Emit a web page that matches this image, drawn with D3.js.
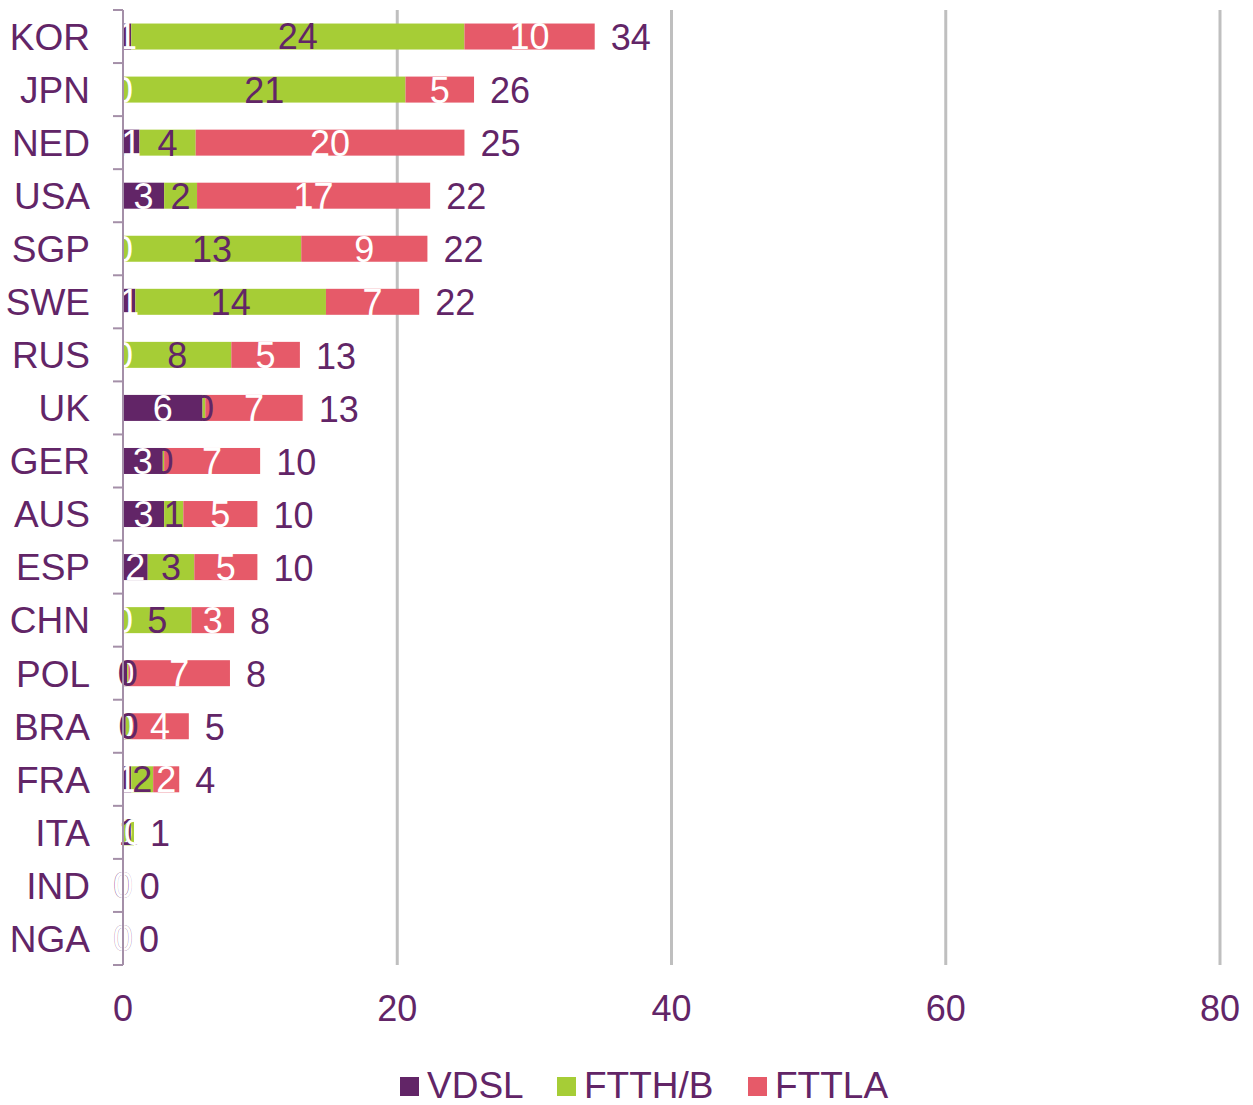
<!DOCTYPE html>
<html>
<head>
<meta charset="utf-8">
<script src="https://cdn.jsdelivr.net/npm/d3@7"></script>
<style>
  body { margin: 0; background: #fff; }
  text { font-family: "Liberation Sans", Arial, sans-serif; }
</style>
</head>
<body>
<svg id="chart" width="1253" height="1105"></svg>
<script>
// data (labels are rounded in the original)
const countries = ["KOR","JPN","NED","USA","SGP","SWE","RUS","UK","GER","AUS","ESP","CHN","POL","BRA","FRA","ITA","IND","NGA"];
const vdsl  = [0.6, 0,    1.2, 3.0,  0,    0.9,  0,   5.8, 2.9, 3.0, 1.8, 0,   0.3, 0.2, 0.6, 0,   0,    0];
const ftthb = [24.3, 20.6, 4.1, 2.4, 13.0, 13.9, 7.9, 0.2, 0.1, 1.4, 3.4, 5.0, 0.1, 0.4, 1.6, 0.8, 0,    0];
const fttla = [9.5, 5.0,  19.6, 17.0, 9.2, 6.8,  5.0, 7.1, 7.0, 5.4, 4.6, 3.1, 7.4, 4.2, 1.9, 0,   0.05, 0];
const seriesNames = ["VDSL", "FTTH/B", "FTTLA"];
const xTicks = [0, 20, 40, 60, 80];

const colors = ["#622567", "#a6cd36", "#e65a69"];
const labelColors = ["#ffffff", "#622567", "#ffffff"];
const textColor = "#622567";

const svg = d3.select("#chart");
const margin = {left: 123, top: 10, right: 33, bottom: 140};
const W = 1253, H = 1105;

const x = d3.scaleLinear().domain([0, 80]).range([margin.left, W - margin.right]);
const y = d3.scaleBand().domain(countries).range([margin.top, H - margin.bottom]).paddingInner(0.51).paddingOuter(0.255);

const rows = countries.map((c, i) => ({country: c, VDSL: vdsl[i], "FTTH/B": ftthb[i], FTTLA: fttla[i]}));
const stacked = d3.stack().keys(seriesNames)(rows);

// gridlines
svg.append("g").selectAll("line").data(xTicks.filter(d => d > 0)).join("line")
  .attr("x1", d => x(d)).attr("x2", d => x(d))
  .attr("y1", margin.top).attr("y2", H - margin.bottom)
  .attr("stroke", "#bfbfbf").attr("stroke-width", 3);

// bars
const layers = svg.append("g").selectAll("g").data(stacked).join("g")
  .attr("fill", (d, i) => colors[i]);
layers.selectAll("rect").data(d => d).join("rect")
  .attr("x", d => x(d[0]))
  .attr("width", d => x(d[1]) - x(d[0]))
  .attr("y", d => y(d.data.country))
  .attr("height", y.bandwidth());

// value labels in segments
svg.append("g").selectAll("g").data(stacked).join("g")
  .attr("fill", (d, i) => labelColors[i])
  .selectAll("text").data(d => d).join("text")
  .attr("x", d => (x(d[0]) + x(d[1])) / 2)
  .attr("y", d => y(d.data.country) + y.bandwidth() / 2)
  .attr("dy", "0.36em")
  .attr("text-anchor", "middle")
  .attr("font-size", 36)
  .text(d => Math.round(d[1] - d[0]));

// totals
svg.append("g").selectAll("text").data(rows).join("text")
  .attr("x", d => x(d.VDSL + d["FTTH/B"] + d.FTTLA) + 16)
  .attr("y", d => y(d.country) + y.bandwidth() / 2)
  .attr("dy", "0.38em")
  .attr("font-size", 36)
  .attr("fill", textColor)
  .text(d => Math.round(d.VDSL + d["FTTH/B"] + d.FTTLA));

// category axis
const step = y.step();
const bounds = d3.range(countries.length + 1).map(i => margin.top + i * step);
const ax = svg.append("g");
ax.append("line")
  .attr("x1", margin.left).attr("x2", margin.left)
  .attr("y1", margin.top).attr("y2", H - margin.bottom)
  .attr("stroke", "#a48fa8").attr("stroke-width", 2);
ax.selectAll("line.tk").data(bounds).join("line").attr("class", "tk")
  .attr("x1", margin.left - 10).attr("x2", margin.left)
  .attr("y1", d => d).attr("y2", d => d)
  .attr("stroke", "#a48fa8").attr("stroke-width", 2);
ax.selectAll("text").data(countries).join("text")
  .attr("x", 90)
  .attr("y", d => y(d) + y.bandwidth() / 2)
  .attr("dy", "0.36em")
  .attr("text-anchor", "end")
  .attr("font-size", 37)
  .attr("fill", textColor)
  .text(d => d);

// value axis labels
svg.append("g").selectAll("text").data(xTicks).join("text")
  .attr("x", d => x(d))
  .attr("y", 1021)
  .attr("text-anchor", "middle")
  .attr("font-size", 36)
  .attr("fill", textColor)
  .text(d => d);

// legend
const legX = [400, 557, 748];
const leg = svg.append("g").selectAll("g").data(seriesNames).join("g")
  .attr("transform", (d, i) => `translate(${legX[i]},1077)`);
leg.append("rect").attr("width", 19).attr("height", 19).attr("fill", (d, i) => colors[i]);
leg.append("text").attr("x", 27).attr("y", 21)
  .attr("font-size", 37).attr("fill", textColor).text(d => d);
</script>
</body>
</html>
